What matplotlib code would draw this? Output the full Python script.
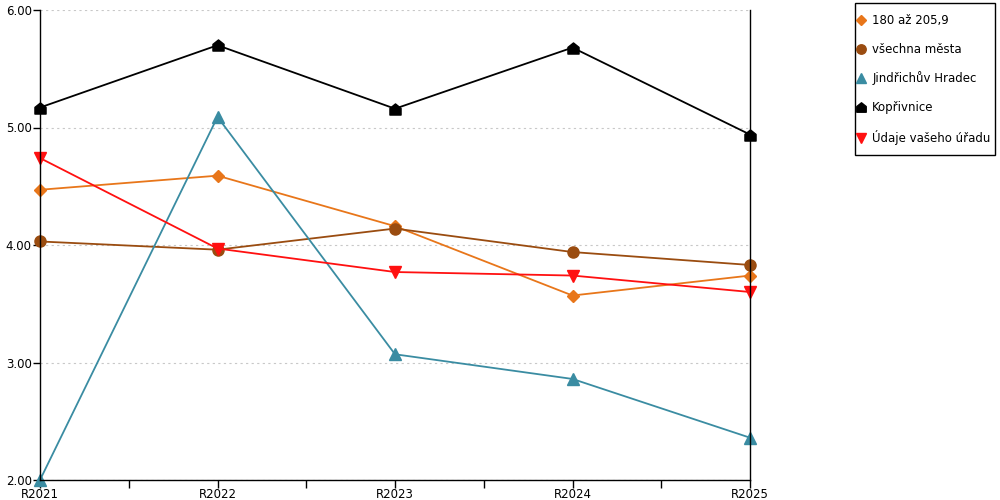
import matplotlib.pyplot as plt
from matplotlib.path import Path
from matplotlib.patches import Rectangle

years = ["R2021", "R2022", "R2023", "R2024", "R2025"]
v_180 = [4.47, 4.59, 4.16, 3.57, 3.74]
v_vsechna = [4.03, 3.96, 4.14, 3.94, 3.83]
v_jh = [2.00, 5.09, 3.07, 2.86, 2.36]
v_kop = [5.17, 5.70, 5.16, 5.68, 4.94]
v_urad = [4.74, 3.97, 3.77, 3.74, 3.60]

# domecek marker
house = Path([(-1, -1), (1, -1), (1, 0.2), (0, 1), (-1, 0.2), (-1, -1)],
             [Path.MOVETO, Path.LINETO, Path.LINETO, Path.LINETO, Path.LINETO, Path.CLOSEPOLY])

plt.rcParams['font.family'] = ['DejaVu Sans']
fig = plt.figure(figsize=(10, 5), dpi=100)
ax = fig.add_axes([0.04, 0.04, 0.71, 0.94])

x = list(range(len(years)))
ax.plot(x, v_180, color="#E8761A", marker="D", markersize=6, lw=1.3, label="180 až 205,9")
ax.plot(x, v_vsechna, color="#9A4C10", marker="o", markersize=8, lw=1.3, label="všechna města")
ax.plot(x, v_jh, color="#3A8CA2", marker="^", markersize=8, lw=1.3, label="Jindřichův Hradec")
ax.plot(x, v_kop, color="black", marker=house, markersize=8, lw=1.3, label="Kopřivnice")
ax.plot(x, v_urad, color="#FF1010", marker="v", markersize=8, lw=1.3, label="Údaje vašeho úřadu")

ax.set_xlim(0, len(years) - 1)
ax.set_ylim(2, 6)
ax.set_xticks(x)
ax.set_xticklabels(years)
ax.set_xticks([i + 0.5 for i in x[:-1]], minor=True)
ax.set_yticks([2, 3, 4, 5, 6])
ax.set_yticklabels(["2.00", "3.00", "4.00", "5.00", "6.00"])
ax.tick_params(axis="y", labelsize=8.5, length=5, width=1, color="black", pad=1)
ax.tick_params(axis="x", labelsize=8.5, length=6, width=1, color="black", pad=0)
ax.tick_params(axis="x", which="minor", length=6, width=1)
ax.yaxis.grid(True, linestyle=(0, (2, 3)), color="#C8C8C8", lw=0.8)
ax.set_axisbelow(True)
ax.spines["top"].set_visible(False)
for s in ["left", "bottom", "right"]:
    ax.spines[s].set_linewidth(1)
    ax.spines[s].set_color("black")
for c in ax.lines:
    c.set_clip_on(False)

leg = fig.legend(loc="upper left", bbox_to_anchor=(0.857, 0.972), borderaxespad=0,
                 fontsize=8.5, frameon=False, handlelength=0.7, handletextpad=0.6,
                 labelspacing=1.33, borderpad=0, numpoints=1, markerscale=0.85)
for h in leg.get_lines():
    h.set_linestyle("none")
fig.patches.append(Rectangle((0.855, 0.69), 0.14, 0.304, transform=fig.transFigure,
                             fill=False, edgecolor="black", lw=1))

fig.savefig("out.png", dpi=100)
